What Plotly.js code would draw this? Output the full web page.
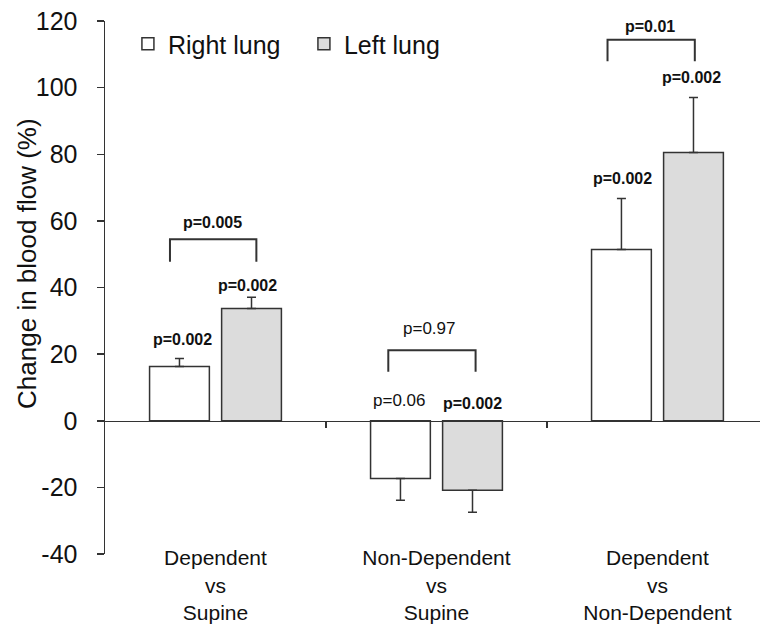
<!DOCTYPE html>
<html>
<head>
<meta charset="utf-8">
<script src="https://cdn.plot.ly/plotly-3.0.1.min.js"></script>
<style>
  html, body { margin: 0; padding: 0; background: #fff; }
  #chart { width: 760px; height: 625px; }
</style>
</head>
<body>
<div id="chart"></div>
<script>
// ---- data ----
const categories = ['Dependent<br>vs<br>Supine', 'Non-Dependent<br>vs<br>Supine', 'Dependent<br>vs<br>Non-Dependent'];
const seriesNames = ['Right lung', 'Left lung'];
const rightValues = [16.3, -17.3, 51.4];
const rightErrUp = [2.4, 0, 15.3];
const rightErrDown = [0, 6.6, 0];
const leftValues = [33.7, -20.9, 80.5];
const leftErrUp = [3.4, 0, 16.5];
const leftErrDown = [0, 6.6, 0];
const yTicks = [-40, -20, 0, 20, 40, 60, 80, 100, 120];
const yTickText = ['-40', '-20', '0', '20', '40', '60', '80', '100', '120'];
const yTitle = 'Change in blood flow (%)';

// p-value labels
const pRight = ['p=0.002', 'p=0.06', 'p=0.002'];
const pRightBold = [true, false, true];
const pLeft = ['p=0.002', 'p=0.002', 'p=0.002'];
const pLeftBold = [true, true, true];
const pBetween = ['p=0.005', 'p=0.97', 'p=0.01'];
const pBetweenBold = [true, false, true];

// ---- layout helpers (label / bracket placement) ----
const pRightPos = [[-0.15, 24.5], [0.83, 6.2], [1.844, 72.7]];
const pLeftPos = [[0.147, 40.7], [1.164, 5.2], [2.156, 103]];
const pBetweenPos = [[-0.014, 59.4], [0.968, 27.7], [1.966, 118.4]];
const brackets = [[-0.206, 0.185, 54.5, 47.7], [0.782, 1.177, 21.2, 14.7], [1.774, 2.169, 114.4, 107.9]];

const FONT = 'Liberation Sans, Arial, Helvetica, sans-serif';
const INK = '#333333';
const TXT = '#111111';

const xRange = [-0.5, 2.464];

const traces = [
  {
    type: 'bar', name: seriesNames[0], x: categories, y: rightValues,
    marker: { color: '#ffffff', line: { color: INK, width: 1.5 } },
    error_y: { type: 'data', symmetric: false, array: rightErrUp, arrayminus: rightErrDown,
               color: INK, thickness: 1.5, width: 4.5 }
  },
  {
    type: 'bar', name: seriesNames[1], x: categories, y: leftValues,
    marker: { color: '#dcdcdc', line: { color: INK, width: 1.5 } },
    error_y: { type: 'data', symmetric: false, array: leftErrUp, arrayminus: leftErrDown,
               color: INK, thickness: 1.5, width: 4.5 }
  },
  // empty helper trace so the zero-line axis (x2) is drawn
  { type: 'scatter', mode: 'lines', x: [xRange[0]], y: [null], xaxis: 'x2', yaxis: 'y',
    showlegend: false, hoverinfo: 'skip' }
];

const annotations = [];
function addLabel(txt, bold, pos) {
  annotations.push({
    x: pos[0], y: pos[1], xref: 'x', yref: 'y', showarrow: false,
    text: bold ? '<b>' + txt + '</b>' : txt,
    font: { family: FONT, size: bold ? 16 : 17, color: TXT },
    xanchor: 'center', yanchor: 'middle'
  });
}
for (let i = 0; i < 3; i++) {
  addLabel(pRight[i], pRightBold[i], pRightPos[i]);
  addLabel(pLeft[i], pLeftBold[i], pLeftPos[i]);
  addLabel(pBetween[i], pBetweenBold[i], pBetweenPos[i]);
}
// y-axis title (placed as rotated text, like the original)
annotations.push({
  text: yTitle, textangle: -90, xref: 'paper', yref: 'paper',
  x: -0.12, y: 0.545, xanchor: 'center', yanchor: 'middle', showarrow: false,
  font: { family: FONT, size: 26, color: TXT }
});

const shapes = brackets.map(b => ({
  type: 'path', xref: 'x', yref: 'y',
  path: `M ${b[0]},${b[3]} L ${b[0]},${b[2]} L ${b[1]},${b[2]} L ${b[1]},${b[3]}`,
  line: { color: INK, width: 2 }
}));

const layout = {
  width: 760, height: 625,
  margin: { l: 105, r: 0, t: 21, b: 71 },
  paper_bgcolor: '#ffffff', plot_bgcolor: '#ffffff',
  font: { family: FONT, color: TXT },
  barmode: 'group', bargap: 0.348, bargroupgap: 0.17,
  showlegend: true,
  legend: {
    orientation: 'h', x: 0.035, xanchor: 'left', y: 1.0, yanchor: 'top',
    font: { family: FONT, size: 25, color: TXT },
    bgcolor: 'rgba(0,0,0,0)', entrywidth: 131, traceorder: 'normal'
  },
  xaxis: {
    type: 'category', range: xRange, showgrid: false, zeroline: false,
    showline: false, ticks: '', tickfont: { family: FONT, size: 21, color: TXT },
    anchor: 'free', position: 0.02, fixedrange: true
  },
  xaxis2: {
    overlaying: 'x', anchor: 'free', position: 0.25, type: 'linear', range: xRange,
    showgrid: false, zeroline: false, showline: true, linecolor: INK, linewidth: 1.5,
    ticks: 'outside', tickvals: [0.5, 1.5], ticklen: 6, tickwidth: 1.5, tickcolor: INK,
    showticklabels: false
  },
  yaxis: {
    range: [-40, 120], tickvals: yTicks, ticktext: yTickText, showgrid: false, zeroline: false,
    showline: true, linecolor: INK, linewidth: 1.5,
    ticks: 'outside', ticklen: 7, tickwidth: 1.5, tickcolor: INK, ticklabelstandoff: 14,
    tickfont: { family: FONT, size: 25, color: TXT }
  },
  annotations: annotations,
  shapes: shapes
};

Plotly.newPlot('chart', traces, layout, { staticPlot: true, displayModeBar: false });
</script>
</body>
</html>
